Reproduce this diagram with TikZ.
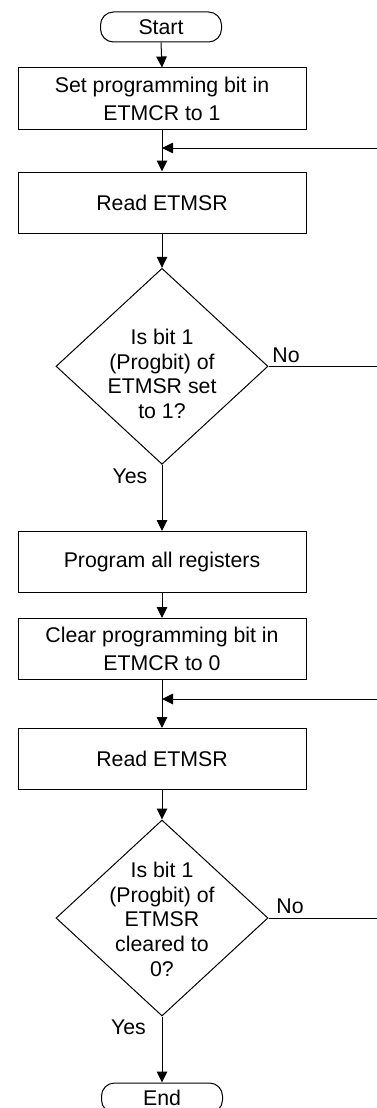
\documentclass[tikz,border=0pt]{standalone}
\usepackage{fontspec}
\setmainfont{Liberation Sans}
\usetikzlibrary{arrows.meta,shapes.geometric}
\newcommand{\boxfont}{\fontsize{21.3}{28}\selectfont}
\newcommand{\diafont}{\fontsize{21.3}{24.7}\selectfont}
\begin{document}
\begin{tikzpicture}[x=1pt,y=-1pt,
  line width=1pt,
  box/.style={draw, minimum width=288pt, minimum height=61pt, inner sep=0pt, align=center, font=\boxfont},
  term/.style={draw, rounded corners=13pt, minimum width=121pt, minimum height=30pt, inner sep=0pt, font=\boxfont},
  dia/.style={draw, diamond, minimum width=212pt, minimum height=196pt, inner sep=0pt},
  diatext/.style={align=center, inner sep=0pt, font=\diafont},
  lbl/.style={inner sep=0pt, anchor=base, font=\boxfont},
  arr/.style={-{Triangle[length=11pt,width=10.5pt]}}]
\useasboundingbox (0,0) rectangle (377,1108);
% nodes
\node[term] (start) at (161,27) {Start};
\node[box] (b1) at (162,98.5) {Set programming bit in\\ETMCR to 1};
\node[box] (read1) at (162,202.5) {Read ETMSR};
\node[dia] (d1) at (162,366.3) {};
\node[diatext] (d1t) at (162,374) {Is bit 1\\(Progbit) of\\ETMSR set\\to 1?};
\node[box] (prog) at (162,562) {Program all registers};
\node[box] (clr) at (162,649) {Clear programming bit in\\ETMCR to 0};
\node[box] (read2) at (162,759) {Read ETMSR};
\node[dia] (d2) at (162,918) {};
\node[diatext] (d2t) at (162,919.3) {Is bit 1\\(Progbit) of\\ETMSR\\cleared to\\0?};
\node[term] (end) at (162,1098) {End};
% labels
\node[lbl] (yes1) at (130,483) {Yes};
\node[lbl] (no1) at (286,362) {No};
\node[lbl] (yes2) at (128.5,1034) {Yes};
\node[lbl] (no2) at (290,913) {No};
% coordinates for loops
\coordinate (j1) at (162,148);
\coordinate (r1) at (377,148);
\coordinate (r2) at (377,366.3);
\coordinate (j2) at (162,699);
\coordinate (r3) at (377,699);
\coordinate (r4) at (377,918);
% connectors
\draw[arr] (start.south) -- (b1.north);
\draw[arr] (b1.south) -- (read1.north);
\draw[arr] (r1) -- (j1);
\draw[arr] (read1.south) -- (d1.north);
\draw (d1.east) -- (r2);
\draw[arr] (d1.south) -- (prog.north);
\draw[arr] (prog.south) -- (clr.north);
\draw[arr] (clr.south) -- (read2.north);
\draw[arr] (r3) -- (j2);
\draw[arr] (read2.south) -- (d2.north);
\draw (d2.east) -- (r4);
\draw[arr] (d2.south) -- (end.north);
\end{tikzpicture}
\end{document}
